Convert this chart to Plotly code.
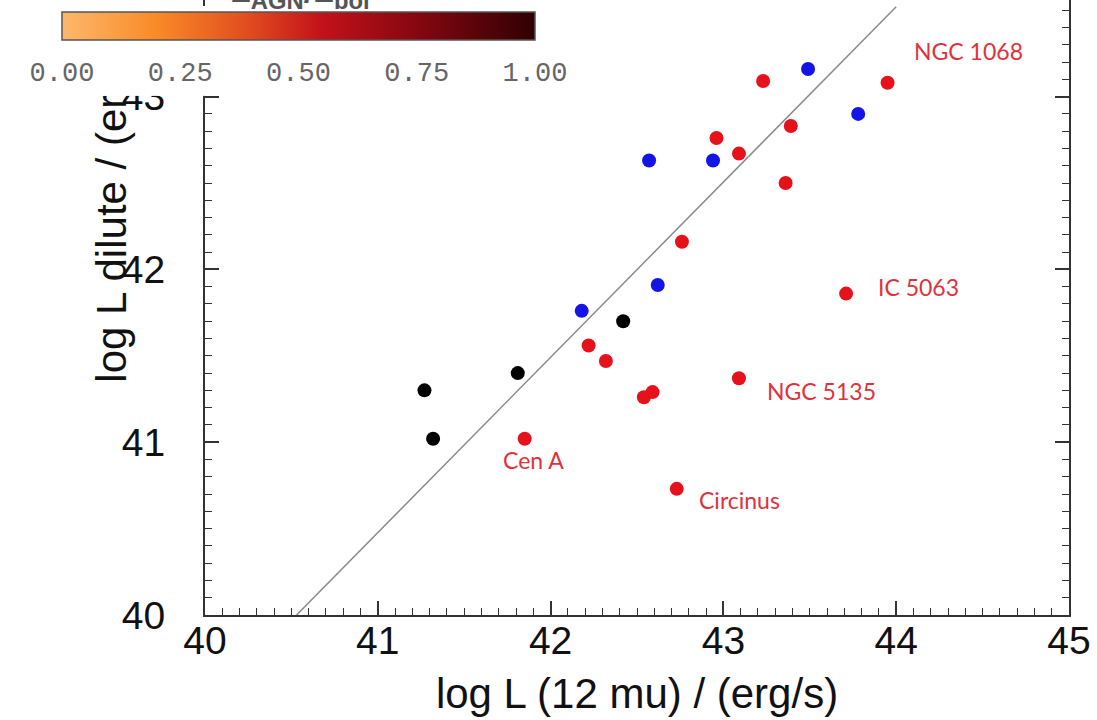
import plotly.graph_objects as go

# --- data ---
RED_X = [43.95, 43.23, 42.96, 43.09, 43.39, 43.36, 42.76, 42.22, 42.32,
         42.54, 42.59, 41.85, 42.73, 43.71, 43.09]
RED_Y = [43.08, 43.09, 42.76, 42.67, 42.83, 42.50, 42.16, 41.56, 41.47,
         41.26, 41.29, 41.02, 40.73, 41.86, 41.37]
BLUE_X = [43.49, 43.78, 42.57, 42.94, 42.62, 42.18]
BLUE_Y = [43.16, 42.90, 42.63, 42.63, 41.91, 41.76]
BLACK_X = [42.42, 41.81, 41.27, 41.32]
BLACK_Y = [41.70, 41.40, 41.30, 41.02]

# one-to-one style line
LINE_X = [40.53, 44.0]
LINE_Y = [40.0, 43.52]

# named galaxies -> index into the red series
LABEL_NAMES = ["NGC 1068", "IC 5063", "NGC 5135", "Cen A", "Circinus"]
LABEL_IDX = [0, 13, 14, 11, 12]

CB_TICKS = [0.0, 0.25, 0.5, 0.75, 1.0]

# label placement (pixels relative to the dot)
LABEL_STYLE = {
    "NGC 1068": dict(xshift=24, yshift=32, xanchor="left"),
    "IC 5063": dict(xshift=30, yshift=7, xanchor="left"),
    "NGC 5135": dict(xshift=26, yshift=-13, xanchor="left"),
    "Cen A": dict(xshift=9, yshift=-21, xanchor="center"),
    "Circinus": dict(xshift=20, yshift=-11, xanchor="left"),
}

SANS = "Liberation Sans, Arial, sans-serif"
RED = "#E5121B"
LABEL_RED = "#E0323C"

W, H = 1097, 720
L, R, T, B = 205, 28, 0, 105
PW, PH = W - L - R, H - T - B
PX_PER_UNIT = PW / 5.0
Y_TOP = 40 + PH / PX_PER_UNIT
YTITLE_CENTER_PX = 210   # centre of the (partly hidden) y title, from the top
CB_LEFT, CB_LEN, CB_PAD, CB_YPAD = 62, 473, 30, 6


def px_to_paper(px, py):
    return (px - L) / PW, (H - B - py) / PH


fig = go.Figure()

fig.add_trace(go.Scatter(
    x=LINE_X, y=LINE_Y, mode="lines",
    line=dict(color="#8a8a8a", width=1.5),
    hoverinfo="skip", showlegend=False,
))

for xs, ys, col, name in [(BLACK_X, BLACK_Y, "#000000", "black"),
                          (BLUE_X, BLUE_Y, "#1414E6", "blue"),
                          (RED_X, RED_Y, RED, "red")]:
    fig.add_trace(go.Scatter(
        x=xs, y=ys, mode="markers", name=name,
        marker=dict(color=col, size=14, line=dict(width=0)),
        showlegend=False,
    ))

# empty trace so the title-carrying y axis is drawn
fig.add_trace(go.Scatter(x=[None], y=[None], yaxis="y2", showlegend=False,
                         hoverinfo="skip"))

# colour bar overlay in the top-left corner
cb_x, cb_y = px_to_paper(CB_LEFT - CB_PAD, 6)
fig.add_trace(go.Scatter(
    x=[None, None], y=[None, None], mode="markers",
    marker=dict(
        color=[0, 1], cmin=0, cmax=1,
        colorscale=[[0.0, "#FDB86C"], [0.2, "#F98A27"], [0.4, "#E04A1F"],
                    [0.55, "#C3111A"], [0.75, "#860710"], [1.0, "#300004"]],
        showscale=True,
        colorbar=dict(
            orientation="h",
            xref="paper", yref="paper",
            x=cb_x, xanchor="left",
            y=cb_y, yanchor="top",
            lenmode="pixels", len=CB_LEN + 2 * CB_PAD,
            thickness=28,
            xpad=CB_PAD, ypad=CB_YPAD,
            bgcolor="white",
            outlinecolor="#555555", outlinewidth=1.5,
            tickvals=CB_TICKS, tickformat=".2f",
            ticks="outside", ticklen=8, tickcolor="rgba(0,0,0,0)",
            tickfont=dict(family="Liberation Mono, Courier New, monospace",
                          size=27, color="#666666"),
        ),
    ),
    showlegend=False, hoverinfo="skip",
))

annotations = []
for name, i in zip(LABEL_NAMES, LABEL_IDX):
    st = LABEL_STYLE[name]
    annotations.append(dict(
        x=RED_X[i], y=RED_Y[i], xref="x", yref="y",
        text=name, showarrow=False,
        xshift=st["xshift"], yshift=st["yshift"],
        xanchor=st["xanchor"], yanchor="middle",
        font=dict(family="Lato, Noto Sans, sans-serif", size=23, color=LABEL_RED),
    ))

# colour bar caption, mostly cut off by the top of the figure
cx, cy = px_to_paper(300, 0)
annotations.append(dict(
    x=cx, y=cy, xref="paper", yref="paper",
    text="<b>L<sub>AGN</sub>/L<sub>bol</sub></b>", showarrow=False,
    xanchor="center", yanchor="bottom", yshift=-16,
    font=dict(family=SANS, size=34, color="#555555"),
))

axis_common = dict(
    showline=True, linecolor="#333333", linewidth=2,
    ticks="inside", ticklen=14, tickwidth=1.5, tickcolor="#333333",
    minor=dict(ticks="inside", ticklen=7, tickwidth=1.2, tickcolor="#333333", dtick=0.1),
    showgrid=False, zeroline=False,
    tickfont=dict(family=SANS, size=39, color="#111111"),
)

fig.update_layout(
    width=W, height=H,
    margin=dict(l=L, r=R, t=T, b=B, autoexpand=False),
    paper_bgcolor="white", plot_bgcolor="white",
    annotations=annotations,
    xaxis=dict(
        range=[40, 45], tickvals=[40, 41, 42, 43, 44, 45],
        mirror=False, ticklabelstandoff=-10,
        title=dict(text="log L (12 mu) / (erg/s)", standoff=18,
                   font=dict(family=SANS, size=42, color="#111111")),
        **axis_common,
    ),
    yaxis=dict(
        range=[40, Y_TOP], tickvals=[40, 41, 42, 43],
        mirror="ticks", ticklabelstandoff=30,
        **axis_common,
    ),
    # the y title sits under the colour bar box, so it is drawn as a rotated
    # tick label of a bare overlay axis
    yaxis2=dict(
        overlaying="y", side="left", anchor="free", position=0.0,
        range=[40, Y_TOP],
        tickvals=[40 + (PH - YTITLE_CENTER_PX) / PX_PER_UNIT],
        ticktext=["log L dilute / (erg/s)"], tickangle=-90,
        showline=False, ticks="", showgrid=False, zeroline=False,
        ticklabelstandoff=71,
        tickfont=dict(family=SANS, size=42, color="#111111"),
    ),
)

# drop the default page margin so the figure sits flush in the window
fig.write_html("out.html", config={"displayModeBar": False},
               post_script="document.body.style.margin = '0';")
